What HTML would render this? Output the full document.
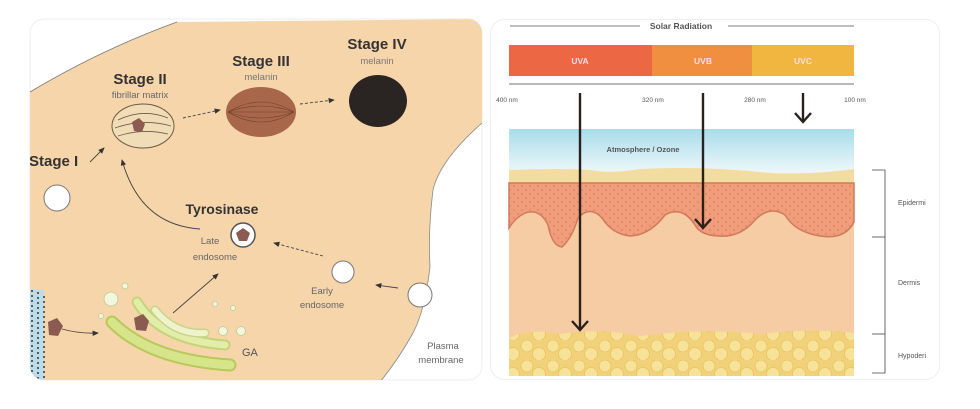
<!DOCTYPE html>
<html><head><meta charset="utf-8"><style>
html,body{margin:0;padding:0;background:#fff;width:980px;height:409px;overflow:hidden}
svg{display:block}
text{font-family:"Liberation Sans",Arial,sans-serif}
</style></head><body>
<svg width="980" height="409" viewBox="0 0 980 409" xmlns="http://www.w3.org/2000/svg">
<defs>
<clipPath id="lc"><rect x="30" y="19" width="452" height="361" rx="14"/></clipPath>
<linearGradient id="sky" x1="0" y1="0" x2="0" y2="1"><stop offset="0" stop-color="#a9dcea"/><stop offset="1" stop-color="#f4fafb"/></linearGradient>
<pattern id="dots" width="8" height="8" patternUnits="userSpaceOnUse"><circle cx="2" cy="2" r="0.9" fill="#c9664a"/><circle cx="6" cy="6" r="0.9" fill="#c9664a"/></pattern>
<pattern id="fat" width="26" height="20" patternUnits="userSpaceOnUse"><rect width="26" height="20" fill="#f1d27a"/><circle cx="7" cy="6" r="6" fill="#f7e29a" stroke="#e8c45c" stroke-width="0.8"/><circle cx="19" cy="14" r="6.5" fill="#f7e29a" stroke="#e8c45c" stroke-width="0.8"/></pattern>
<marker id="ah" markerWidth="8" markerHeight="8" refX="6" refY="3" orient="auto"><path d="M0,0 L7,3 L0,6 z" fill="#333"/></marker>
</defs>
<!-- left panel -->
<rect x="30" y="19" width="452" height="361" rx="14" fill="#fff" stroke="#eee"/>
<g clip-path="url(#lc)">
<path d="M30,92 Q100,50 177,22 L482,19 L482,123 Q440,160 433,190 Q428,230 430,267 Q425,310 413,333 Q398,360 380,382 L30,382 Z" fill="#f6d5ab"/>
<path d="M30,92 Q100,50 177,22" fill="none" stroke="#777" stroke-width="0.8"/>
<path d="M482,123 Q440,160 433,190 Q428,230 430,267 Q425,310 413,333 Q398,360 380,382" fill="none" stroke="#888" stroke-width="0.8"/>
<!-- ER -->
<rect x="30" y="290" width="14" height="90" fill="#bcdcea"/>
<g stroke="#333" stroke-width="1.5" stroke-dasharray="2,3"><line x1="32" y1="290" x2="32" y2="380"/><line x1="38" y1="292" x2="38" y2="380"/><line x1="44" y1="296" x2="44" y2="380"/></g>
<polygon points="48,322 57,318 63,326 58,336 49,335" fill="#8b5a50"/>
<!-- golgi -->
<path d="M112,322 Q150,360 230,365" fill="none" stroke="#b8c85a" stroke-width="13" stroke-linecap="round"/>
<path d="M112,322 Q150,360 230,365" fill="none" stroke="#d7e58a" stroke-width="9" stroke-linecap="round"/>
<path d="M137,302 Q160,340 225,345" fill="none" stroke="#c5d478" stroke-width="11" stroke-linecap="round"/>
<path d="M137,302 Q160,340 225,345" fill="none" stroke="#e3edaa" stroke-width="7" stroke-linecap="round"/>
<path d="M155,310 Q175,335 205,333" fill="none" stroke="#c8d48a" stroke-width="9" stroke-linecap="round"/>
<path d="M155,310 Q175,335 205,333" fill="none" stroke="#eef3cc" stroke-width="6" stroke-linecap="round"/>
<g fill="#f4f7df" stroke="#c6cf9a" stroke-width="1"><circle cx="111" cy="299" r="7"/><circle cx="125" cy="286" r="3"/><circle cx="101" cy="316" r="2.5"/><circle cx="215" cy="304" r="2.5"/><circle cx="233" cy="308" r="2.5"/><circle cx="223" cy="331" r="4.5"/><circle cx="241" cy="331" r="4.5"/></g>
<polygon points="134,318 143,314 149,321 146,331 136,330" fill="#8b5a50"/>
<text x="242" y="356" font-size="11" fill="#555">GA</text>
<!-- stages -->
<text x="140" y="84" font-size="15" font-weight="bold" text-anchor="middle" fill="#333">Stage II</text>
<text x="140" y="98" font-size="9.5" text-anchor="middle" fill="#666">fibrillar matrix</text>
<ellipse cx="143" cy="126" rx="31" ry="22" fill="#f1dcb8" stroke="#6d5a45" stroke-width="1"/>
<g stroke="#6d5a45" stroke-width="0.8" fill="none"><path d="M118,120 Q143,108 168,118"/><path d="M115,128 Q143,118 171,126"/><path d="M118,136 Q143,128 168,134"/></g>
<polygon points="132,122 139,118 145,124 142,132 134,131" fill="#8b5a50"/>
<text x="261" y="66" font-size="15" font-weight="bold" text-anchor="middle" fill="#333">Stage III</text>
<text x="261" y="80" font-size="9.5" text-anchor="middle" fill="#777">melanin</text>
<ellipse cx="261" cy="112" rx="35" ry="25" fill="#a8674a"/>
<g stroke="#5e3020" stroke-width="0.6" fill="none" opacity="0.7"><path d="M228,112 Q261,92 294,112"/><path d="M228,112 Q261,132 294,112"/><path d="M228,112 Q261,100 294,112"/><path d="M228,112 Q261,124 294,112"/><line x1="228" y1="112" x2="294" y2="112"/></g>
<text x="377" y="49" font-size="15" font-weight="bold" text-anchor="middle" fill="#333">Stage IV</text>
<text x="377" y="64" font-size="9.5" text-anchor="middle" fill="#777">melanin</text>
<ellipse cx="378" cy="101" rx="29" ry="26" fill="#2a2522"/>
<text x="29" y="166" font-size="15" font-weight="bold" fill="#333">Stage I</text>
<circle cx="57" cy="198" r="13" fill="#fff" stroke="#777"/>
<text x="222" y="214" font-size="14" font-weight="bold" text-anchor="middle" fill="#333">Tyrosinase</text>
<circle cx="243" cy="235" r="12" fill="#fff" stroke="#555" stroke-width="1.5"/>
<polygon points="236,233 243,228 250,233 247,241 239,241" fill="#8b5a50"/>
<text x="210" y="244" font-size="9.5" text-anchor="middle" fill="#666">Late</text>
<text x="215" y="260" font-size="9.5" text-anchor="middle" fill="#666">endosome</text>
<circle cx="343" cy="272" r="11" fill="#fff" stroke="#777"/>
<text x="322" y="294" font-size="9.5" text-anchor="middle" fill="#666">Early</text>
<text x="322" y="308" font-size="9.5" text-anchor="middle" fill="#666">endosome</text>
<circle cx="420" cy="295" r="12" fill="#fff" stroke="#777"/>
<text x="443" y="349" font-size="9.5" text-anchor="middle" fill="#666">Plasma</text>
<text x="441" y="363" font-size="9.5" text-anchor="middle" fill="#666">membrane</text>
<!-- arrows -->
<g stroke="#444" stroke-width="0.9" fill="none" marker-end="url(#ah)">
<line x1="90" y1="162" x2="104" y2="148"/>
<path d="M200,229 Q140,225 122,160"/>
<line x1="183" y1="118" x2="220" y2="110" stroke-dasharray="3,2"/>
<line x1="300" y1="104" x2="334" y2="100" stroke-dasharray="3,2"/>
<line x1="323" y1="256" x2="274" y2="243" stroke-dasharray="3,2"/>
<line x1="398" y1="288" x2="376" y2="285"/>
<line x1="173" y1="313" x2="218" y2="274"/>
<path d="M62,329 Q80,334 98,333"/>
</g>
</g>
<!-- right panel -->
<rect x="490.5" y="19.5" width="449" height="360" rx="14" fill="#fff" stroke="#eee"/>
<line x1="510" y1="26" x2="640" y2="26" stroke="#555" stroke-width="0.8"/>
<line x1="728" y1="26" x2="854" y2="26" stroke="#555" stroke-width="0.8"/>
<text x="681" y="29" font-size="8.5" font-weight="bold" text-anchor="middle" fill="#555">Solar Radiation</text>
<rect x="509" y="45" width="143" height="31" fill="#ec6744"/>
<rect x="652" y="45" width="100" height="31" fill="#f08f40"/>
<rect x="752" y="45" width="102" height="31" fill="#f1b640"/>
<text x="580" y="64" font-size="8.5" font-weight="bold" text-anchor="middle" fill="#fde">UVA</text>
<text x="703" y="64" font-size="8.5" font-weight="bold" text-anchor="middle" fill="#fde">UVB</text>
<text x="803" y="64" font-size="8.5" font-weight="bold" text-anchor="middle" fill="#fde">UVC</text>
<line x1="509" y1="84" x2="854" y2="84" stroke="#444" stroke-width="0.8"/>
<g font-size="6.5" fill="#555" text-anchor="middle"><text x="507" y="102">400 nm</text><text x="653" y="102">320 nm</text><text x="755" y="102">280 nm</text><text x="855" y="102">100 nm</text></g>
<rect x="509" y="129" width="345" height="48" fill="url(#sky)"/>
<text x="643" y="152" font-size="7.5" font-weight="bold" text-anchor="middle" fill="#555">Atmosphere / Ozone</text>
<path d="M509,170 Q560,168 590,170 Q610,174 640,169 Q700,166 760,172 Q800,176 854,169 L854,376 L509,376 Z" fill="#f3dca0"/>
<rect x="509" y="183" width="345" height="193" fill="#f6cca4"/>
<path d="M509,183 L854,183 L854,222 Q845,240 820,236 Q795,232 785,215 Q770,205 755,220 Q740,238 718,236 Q700,235 695,225 Q682,205 665,215 Q650,235 630,236 Q612,234 602,218 Q590,205 578,218 Q572,238 562,247 Q552,246 548,225 Q540,208 525,213 Q515,218 509,228 Z" fill="#ef9d7a" stroke="#d27a5c" stroke-width="1.5"/>
<path d="M509,183 L854,183 L854,222 Q845,240 820,236 Q795,232 785,215 Q770,205 755,220 Q740,238 718,236 Q700,235 695,225 Q682,205 665,215 Q650,235 630,236 Q612,234 602,218 Q590,205 578,218 Q572,238 562,247 Q552,246 548,225 Q540,208 525,213 Q515,218 509,228 Z" fill="url(#dots)" opacity="0.5"/>
<path d="M509,338 Q530,328 560,334 Q600,328 640,336 Q700,328 760,334 Q810,328 854,333 L854,376 L509,376 Z" fill="url(#fat)"/>
<g stroke="#2a201c" stroke-width="2.4" fill="none">
<line x1="580" y1="93" x2="580" y2="330"/><path d="M572,321 L580,330 L588,321"/>
<line x1="703" y1="93" x2="703" y2="228"/><path d="M695,219 L703,228 L711,219"/>
<line x1="803" y1="93" x2="803" y2="122"/><path d="M795,113 L803,122 L811,113"/>
</g>
<g stroke="#444" stroke-width="0.8" fill="none"><path d="M872,170 L885,170 L885,373 L872,373"/><line x1="872" y1="237" x2="885" y2="237"/><line x1="872" y1="334" x2="885" y2="334"/></g>
<g font-size="7" fill="#555"><text x="898" y="205">Epidermi</text><text x="898" y="285">Dermis</text><text x="898" y="358">Hypoderi</text></g>
</svg>
</body></html>
